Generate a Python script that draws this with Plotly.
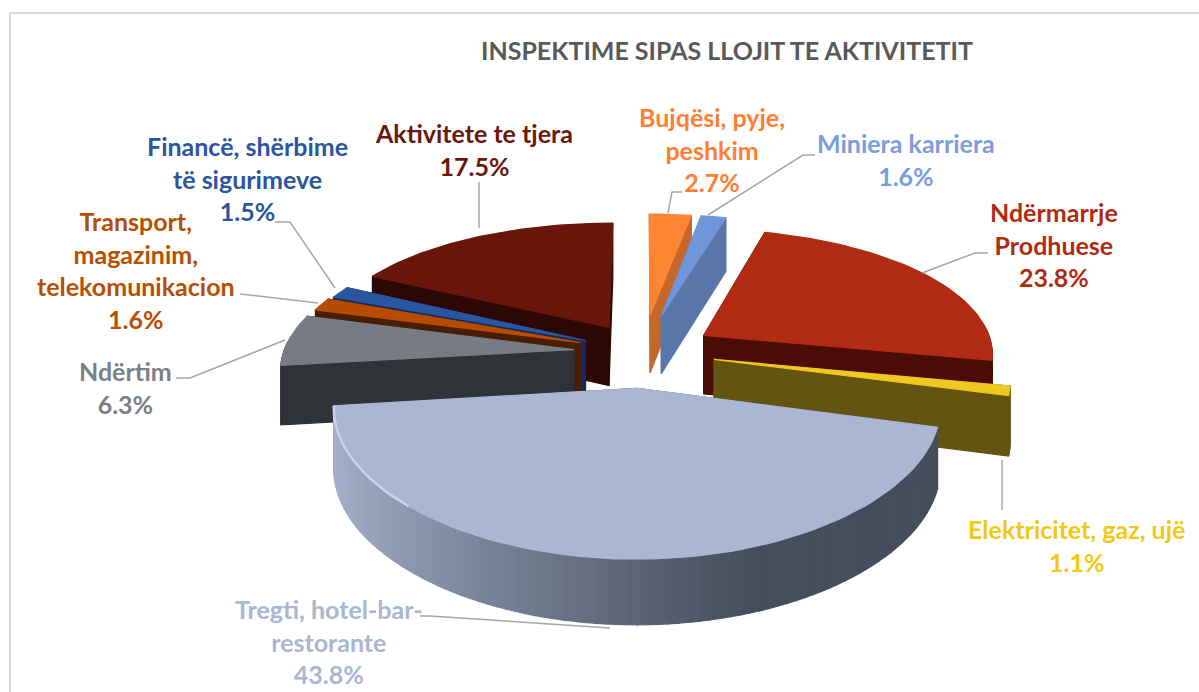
import math
import plotly.graph_objects as go

# --- data ---
categories = ["Bujqësi, pyje, peshkim", "Miniera karriera", "Ndërmarrje Prodhuese",
              "Elektricitet, gaz, ujë", "Tregti, hotel-bar-restorante", "Ndërtim",
              "Transport, magazinim, telekomunikacion", "Financë, shërbime të sigurimeve",
              "Aktivitete te tjera"]
values = [2.7, 1.6, 23.8, 1.1, 43.8, 6.3, 1.6, 1.5, 17.5]
title_text = "INSPEKTIME SIPAS LLOJIT TE AKTIVITETIT"

# --- styling ---
explode = [0.30, 0.30, 0.25, 0.25, 0.27, 0.24, 0.23, 0.22, 0.23]
top_col = ["#ff8533", "#7196dc", "#b12a12", "#f0c820", "#aab6d3", "#777c82", "#b64c00", "#2a55a0", "#6b160b"]
wall_col = ["#c5662a", "#5a76a8", "#4a0e06", "#645412", "#454e5c", "#2f3236", "#4a1c00", "#152a55", "#2b0803"]
text_col = ["#ff7f32", "#7a9de0", "#b02a12", "#f2c811", "#a9b6d4", "#7b8086", "#b84e00", "#2a55a0", "#6b160b"]
label_lines = [["Bujqësi, pyje,", "peshkim"], ["Miniera karriera"], ["Ndërmarrje", "Prodhuese"],
               ["Elektricitet, gaz, ujë"], ["Tregti, hotel-bar-", "restorante"], ["Ndërtim"],
               ["Transport,", "magazinim,", "telekomunikacion"], ["Financë, shërbime", "të sigurimeve"],
               ["Aktivitete te tjera"]]
label_pos = [(712, 149), (906, 159), (1054, 244), (1076, 545), (329, 641), (125, 387), (136, 270), (247, 178), (474, 149)]
leaders = [[(668, 213), (672, 192), (682, 192)], [(708, 215), (803, 155), (815, 155)],
           [(922, 273), (975, 253), (988, 253)], [(1002, 460), (1002, 510)],
           [(610, 628), (430, 616), (420, 616)], [(285, 340), (190, 378), (176, 378)],
           [(318, 303), (240, 294)], [(335, 288), (290, 222), (275, 222)], [(479, 228), (479, 182)]]

CX, CY, R, RK, PX, PY, D, PD = 643, 352, 290, 129, 0.13, 0.165, 59, 0.08


def project(u, v, h=0.0):
    x = CX + R * u / (1 + PX * v)
    y = CY - RK * v / (1 + PY * v) + h * D / (1 + PD * v)
    return x, y


def mix(a, b, t):
    ca = [int(a[i:i + 2], 16) for i in (1, 3, 5)]
    cb = [int(b[i:i + 2], 16) for i in (1, 3, 5)]
    return "#%02x%02x%02x" % tuple(round(p + (q - p) * t) for p, q in zip(ca, cb))


fig = go.Figure()


def poly(points, color, name):
    xs, ys = zip(*points)
    fig.add_trace(go.Scatter(x=list(xs) + [xs[0]], y=list(ys) + [ys[0]], mode="lines", fill="toself",
                             fillcolor=color, line=dict(color=color, width=1.2), name=name,
                             hoverinfo="name", showlegend=False))


total = sum(values)
slices = []
acc = 0.0
for i, val in enumerate(values):
    a0 = acc / total * 2 * math.pi
    a1 = (acc + val) / total * 2 * math.pi
    acc += val
    mid = (a0 + a1) / 2
    slices.append((math.cos(mid) * explode[i], i, a0, a1, mid))

for _, i, a0, a1, mid in sorted(slices, key=lambda s: -s[0]):
    ou, ov = math.sin(mid) * explode[i], math.cos(mid) * explode[i]
    n = max(3, int((a1 - a0) / 0.03))
    rim = [(ou + math.sin(a0 + (a1 - a0) * k / n), ov + math.cos(a0 + (a1 - a0) * k / n)) for k in range(n + 1)]
    for end in (rim[-1], rim[0]):
        poly([project(ou, ov), project(*end), project(*end, 1), project(ou, ov, 1)], wall_col[i], categories[i])
    for k in range(n):
        p, q = rim[k], rim[k + 1]
        if (p[1] + q[1]) / 2 - ov < 0.05:
            col = wall_col[i]
            if i == 4:
                t = min(1, max(0, (project(*p)[0] - 340) / 420))
                col = mix("#a3aec8", "#454e5c", t ** 0.8)
            poly([project(*p), project(*q), project(*q, 1), project(*p, 1)], col, categories[i])
    poly([project(ou, ov)] + [project(*p) for p in rim], top_col[i], categories[i])
    if i == 4:  # bevel highlight along the front rim of the largest slice
        left = [project(*p) for p in rim if project(*p)[0] < 410]
        fig.add_trace(go.Scatter(x=[p[0] for p in left], y=[p[1] for p in left], mode="lines",
                                 line=dict(color="#c9d3ec", width=2.5), hoverinfo="skip", showlegend=False))

shapes = [dict(type="rect", x0=10, y0=13, x1=1215, y1=720, line=dict(color="#d9d9d9", width=2), layer="below")]
for pts in leaders:
    path = "M" + " L".join(f"{x},{y}" for x, y in pts)
    shapes.append(dict(type="path", path=path, line=dict(color="#a6a6a6", width=1.5)))

annotations = [dict(x=727, y=50, xref="x", yref="y", text=f"<b>{title_text}</b>", showarrow=False,
                    font=dict(family="Lato", size=25, color="#595959"))]
for i, val in enumerate(values):
    text = "<br>".join(label_lines[i] + [f"{val:.1f}%"])
    annotations.append(dict(x=label_pos[i][0], y=label_pos[i][1], xref="x", yref="y", text=f"<b>{text}</b>",
                            showarrow=False, align="center",
                            font=dict(family="Lato", size=25, color=text_col[i])))

fig.update_layout(width=1199, height=692, margin=dict(l=0, r=0, t=0, b=0), paper_bgcolor="white",
                  plot_bgcolor="white", showlegend=False, shapes=shapes, annotations=annotations,
                  xaxis=dict(range=[0, 1199], visible=False, fixedrange=True),
                  yaxis=dict(range=[692, 0], visible=False, fixedrange=True))
fig.write_html("out.html", config=dict(displayModeBar=False),
               post_script="document.body.style.margin='0';document.body.style.overflow='hidden';")
